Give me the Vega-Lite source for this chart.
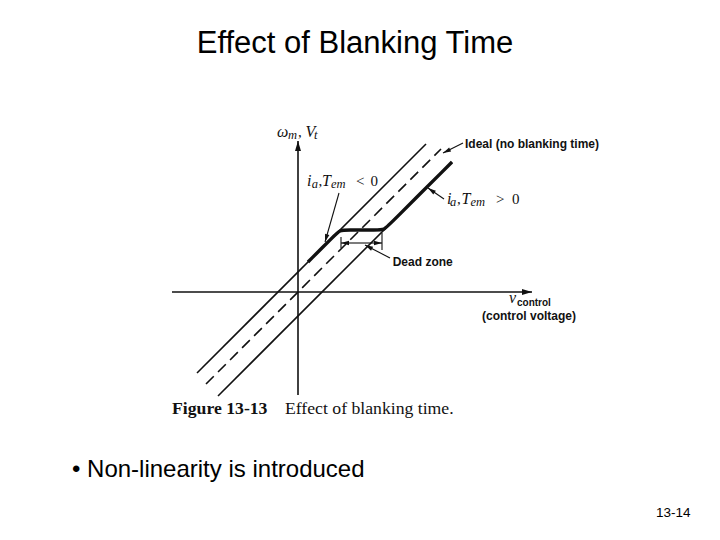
{
  "$schema": "https://vega.github.io/schema/vega-lite/v6.json",
  "width": 720,
  "height": 540,
  "autosize": {"type": "fit", "contains": "padding"},
  "padding": 0,
  "background": "white",
  "config": {"view": {"stroke": null}},
  "datasets": {
    "segs": [
      {"kind": "axis", "x": 0, "y": -10.3, "x2": 0, "y2": 15.1},
      {"kind": "axis", "x": -12.6, "y": 0, "x2": 23.4, "y2": 0},
      {"kind": "leader", "x": 16.5, "y": 14.9, "x2": 14.5, "y2": 13.9},
      {"kind": "leader", "x": 4.1, "y": 9.9, "x2": 2.7, "y2": 5.0},
      {"kind": "leader", "x": 14.6, "y": 9.3, "x2": 13.0, "y2": 10.4},
      {"kind": "leader", "x": 9.2, "y": 3.4, "x2": 6.7, "y2": 4.7},
      {"kind": "dim", "x": 6.3, "y": 4.9, "x2": 4.3, "y2": 4.9},
      {"kind": "dim", "x": 6.3, "y": 4.9, "x2": 8.4, "y2": 4.9},
      {"kind": "tick", "x": 4.3, "y": 4.4, "x2": 4.3, "y2": 5.5},
      {"kind": "tick", "x": 8.4, "y": 4.2, "x2": 8.4, "y2": 5.9}
    ],
    "lines": [
      {"series": "upper", "x": -10.1, "y": -8.1},
      {"series": "upper", "x": 12.8, "y": 14.8},
      {"series": "lower", "x": -8.0, "y": -10.4},
      {"series": "lower", "x": 15.4, "y": 13.0},
      {"series": "ideal", "x": -9.2, "y": -9.2},
      {"series": "ideal", "x": 14.3, "y": 14.3},
      {"series": "actual", "x": 1.0, "y": 3.0},
      {"series": "actual", "x": 3.6, "y": 5.6},
      {"series": "actual", "x": 4.2, "y": 6.2},
      {"series": "actual", "x": 4.8, "y": 6.2},
      {"series": "actual", "x": 8.0, "y": 6.2},
      {"series": "actual", "x": 8.6, "y": 6.2},
      {"series": "actual", "x": 9.2, "y": 6.8},
      {"series": "actual", "x": 15.4, "y": 13.0}
    ],
    "labels": [
      {"group": "title", "text": "Effect of Blanking Time", "x": 5.7, "y": 23.9},
      {"group": "bullet", "text": "• Non-linearity is introduced", "x": -22.6, "y": -18.5},
      {"group": "page", "text": "13-14", "x": 35.8, "y": -22.5},
      {"group": "capbold", "text": "Figure 13-13", "x": -12.6, "y": -12.2},
      {"group": "cap", "text": "Effect of blanking time.", "x": -1.3, "y": -12.2},
      {"group": "sans", "text": "Ideal (no blanking time)", "x": 16.7, "y": 14.4},
      {"group": "sans", "text": "Dead zone", "x": 9.47, "y": 2.6},
      {"group": "sans", "text": "(control voltage)", "x": 18.4, "y": -2.8},
      {"group": "sanssmall", "text": "control", "x": 21.9, "y": -1.4},
      {"group": "ital", "text": "v", "x": 21.1, "y": -1.1},
      {"group": "ital", "text": "ω", "x": -2.1, "y": 15.5},
      {"group": "ital", "text": "V", "x": 0.75, "y": 15.5},
      {"group": "ital", "text": "i", "x": 0.9, "y": 10.6},
      {"group": "ital", "text": "T", "x": 2.4, "y": 10.6},
      {"group": "ital", "text": "i", "x": 14.9, "y": 8.8},
      {"group": "ital", "text": "T", "x": 16.35, "y": 8.8},
      {"group": "sub", "text": "m", "x": -1.0, "y": 15.3},
      {"group": "sub", "text": "t", "x": 1.6, "y": 15.3},
      {"group": "sub", "text": "a", "x": 1.37, "y": 10.4},
      {"group": "sub", "text": "em", "x": 3.3, "y": 10.4},
      {"group": "sub", "text": "a", "x": 15.2, "y": 8.6},
      {"group": "sub", "text": "em", "x": 17.25, "y": 8.6},
      {"group": "sym", "text": ",", "x": 0.0, "y": 15.5},
      {"group": "sym", "text": ",", "x": 2.05, "y": 10.6},
      {"group": "sym", "text": "<", "x": 5.8, "y": 10.6},
      {"group": "sym", "text": "0", "x": 7.25, "y": 10.6},
      {"group": "sym", "text": ",", "x": 15.9, "y": 8.8},
      {"group": "sym", "text": ">", "x": 19.8, "y": 8.8},
      {"group": "sym", "text": "0", "x": 21.4, "y": 8.8}
    ]
  },
  "encoding": {
    "x": {"field": "x", "type": "quantitative", "scale": {"domain": [-29.8, 42.2], "nice": false, "zero": false}, "axis": null},
    "y": {"field": "y", "type": "quantitative", "scale": {"domain": [-24.8, 29.2], "nice": false, "zero": false}, "axis": null}
  },
  "layer": [
    {
      "data": {"name": "segs"},
      "transform": [{"filter": "datum.kind == 'axis'"}],
      "mark": {"type": "rule", "color": "#111", "strokeWidth": 1.6},
      "encoding": {"x2": {"field": "x2"}, "y2": {"field": "y2"}}
    },
    {
      "data": {"name": "segs"},
      "transform": [{"filter": "datum.kind != 'axis'"}],
      "mark": {"type": "rule", "color": "#111", "strokeWidth": 1.1},
      "encoding": {"x2": {"field": "x2"}, "y2": {"field": "y2"}}
    },
    {
      "data": {"name": "segs"},
      "transform": [
        {"filter": "datum.kind == 'axis'"},
        {"calculate": "atan2(datum.x2 - datum.x, datum.y2 - datum.y) * 180 / PI", "as": "angle"}
      ],
      "mark": {"type": "point", "shape": "M0,0L-0.3,1L0.3,1Z", "filled": true, "opacity": 1, "color": "#111", "size": 400, "strokeWidth": 0},
      "encoding": {
        "x": {"field": "x2", "type": "quantitative"},
        "y": {"field": "y2", "type": "quantitative"},
        "angle": {"field": "angle", "type": "quantitative", "scale": null}
      }
    },
    {
      "data": {"name": "segs"},
      "transform": [
        {"filter": "datum.kind == 'leader' || datum.kind == 'dim'"},
        {"calculate": "atan2(datum.x2 - datum.x, datum.y2 - datum.y) * 180 / PI", "as": "angle"}
      ],
      "mark": {"type": "point", "shape": "M0,0L-0.28,1L0.28,1Z", "filled": true, "opacity": 1, "color": "#111", "size": 256, "strokeWidth": 0},
      "encoding": {
        "x": {"field": "x2", "type": "quantitative"},
        "y": {"field": "y2", "type": "quantitative"},
        "angle": {"field": "angle", "type": "quantitative", "scale": null}
      }
    },
    {
      "data": {"name": "lines"},
      "transform": [{"filter": "datum.series == 'upper' || datum.series == 'lower'"}],
      "mark": {"type": "line", "color": "#111", "strokeWidth": 1.6},
      "encoding": {"detail": {"field": "series"}}
    },
    {
      "data": {"name": "lines"},
      "transform": [{"filter": "datum.series == 'ideal'"}],
      "mark": {"type": "line", "color": "#111", "strokeWidth": 1.6, "strokeDash": [11, 6]},
      "encoding": {"detail": {"field": "series"}}
    },
    {
      "data": {"name": "lines"},
      "transform": [{"filter": "datum.series == 'actual'"}],
      "mark": {"type": "line", "color": "#111", "strokeWidth": 3.4, "interpolate": "basis"},
      "encoding": {"detail": {"field": "series"}}
    },
    {
      "data": {"name": "labels"},
      "transform": [{"filter": "datum.group == 'title'"}],
      "mark": {"type": "text", "font": "Liberation Sans", "fontSize": 31, "align": "center", "baseline": "alphabetic", "color": "#000"},
      "encoding": {"text": {"field": "text"}}
    },
    {
      "data": {"name": "labels"},
      "transform": [{"filter": "datum.group == 'bullet'"}],
      "mark": {"type": "text", "font": "Liberation Sans", "fontSize": 24, "align": "left", "baseline": "alphabetic", "color": "#000"},
      "encoding": {"text": {"field": "text"}}
    },
    {
      "data": {"name": "labels"},
      "transform": [{"filter": "datum.group == 'page'"}],
      "mark": {"type": "text", "font": "Liberation Sans", "fontSize": 13.5, "align": "left", "baseline": "alphabetic", "color": "#000"},
      "encoding": {"text": {"field": "text"}}
    },
    {
      "data": {"name": "labels"},
      "transform": [{"filter": "datum.group == 'capbold'"}],
      "mark": {"type": "text", "font": "Liberation Serif", "fontWeight": "bold", "fontSize": 17.7, "align": "left", "baseline": "alphabetic", "color": "#111"},
      "encoding": {"text": {"field": "text"}}
    },
    {
      "data": {"name": "labels"},
      "transform": [{"filter": "datum.group == 'cap'"}],
      "mark": {"type": "text", "font": "Liberation Serif", "fontSize": 17.7, "align": "left", "baseline": "alphabetic", "color": "#111"},
      "encoding": {"text": {"field": "text"}}
    },
    {
      "data": {"name": "labels"},
      "transform": [{"filter": "datum.group == 'sans'"}],
      "mark": {"type": "text", "font": "Liberation Sans", "fontWeight": "bold", "fontSize": 12, "align": "left", "baseline": "alphabetic", "color": "#111"},
      "encoding": {"text": {"field": "text"}}
    },
    {
      "data": {"name": "labels"},
      "transform": [{"filter": "datum.group == 'sanssmall'"}],
      "mark": {"type": "text", "font": "Liberation Sans", "fontWeight": "bold", "fontSize": 10, "align": "left", "baseline": "alphabetic", "color": "#111"},
      "encoding": {"text": {"field": "text"}}
    },
    {
      "data": {"name": "labels"},
      "transform": [{"filter": "datum.group == 'ital'"}],
      "mark": {"type": "text", "font": "Liberation Serif", "fontStyle": "italic", "fontSize": 16, "align": "left", "baseline": "alphabetic", "color": "#111"},
      "encoding": {"text": {"field": "text"}}
    },
    {
      "data": {"name": "labels"},
      "transform": [{"filter": "datum.group == 'sub'"}],
      "mark": {"type": "text", "font": "Liberation Serif", "fontStyle": "italic", "fontSize": 12.5, "align": "left", "baseline": "alphabetic", "color": "#111"},
      "encoding": {"text": {"field": "text"}}
    },
    {
      "data": {"name": "labels"},
      "transform": [{"filter": "datum.group == 'sym'"}],
      "mark": {"type": "text", "font": "Liberation Serif", "fontSize": 15, "align": "left", "baseline": "alphabetic", "color": "#111"},
      "encoding": {"text": {"field": "text"}}
    }
  ]
}
